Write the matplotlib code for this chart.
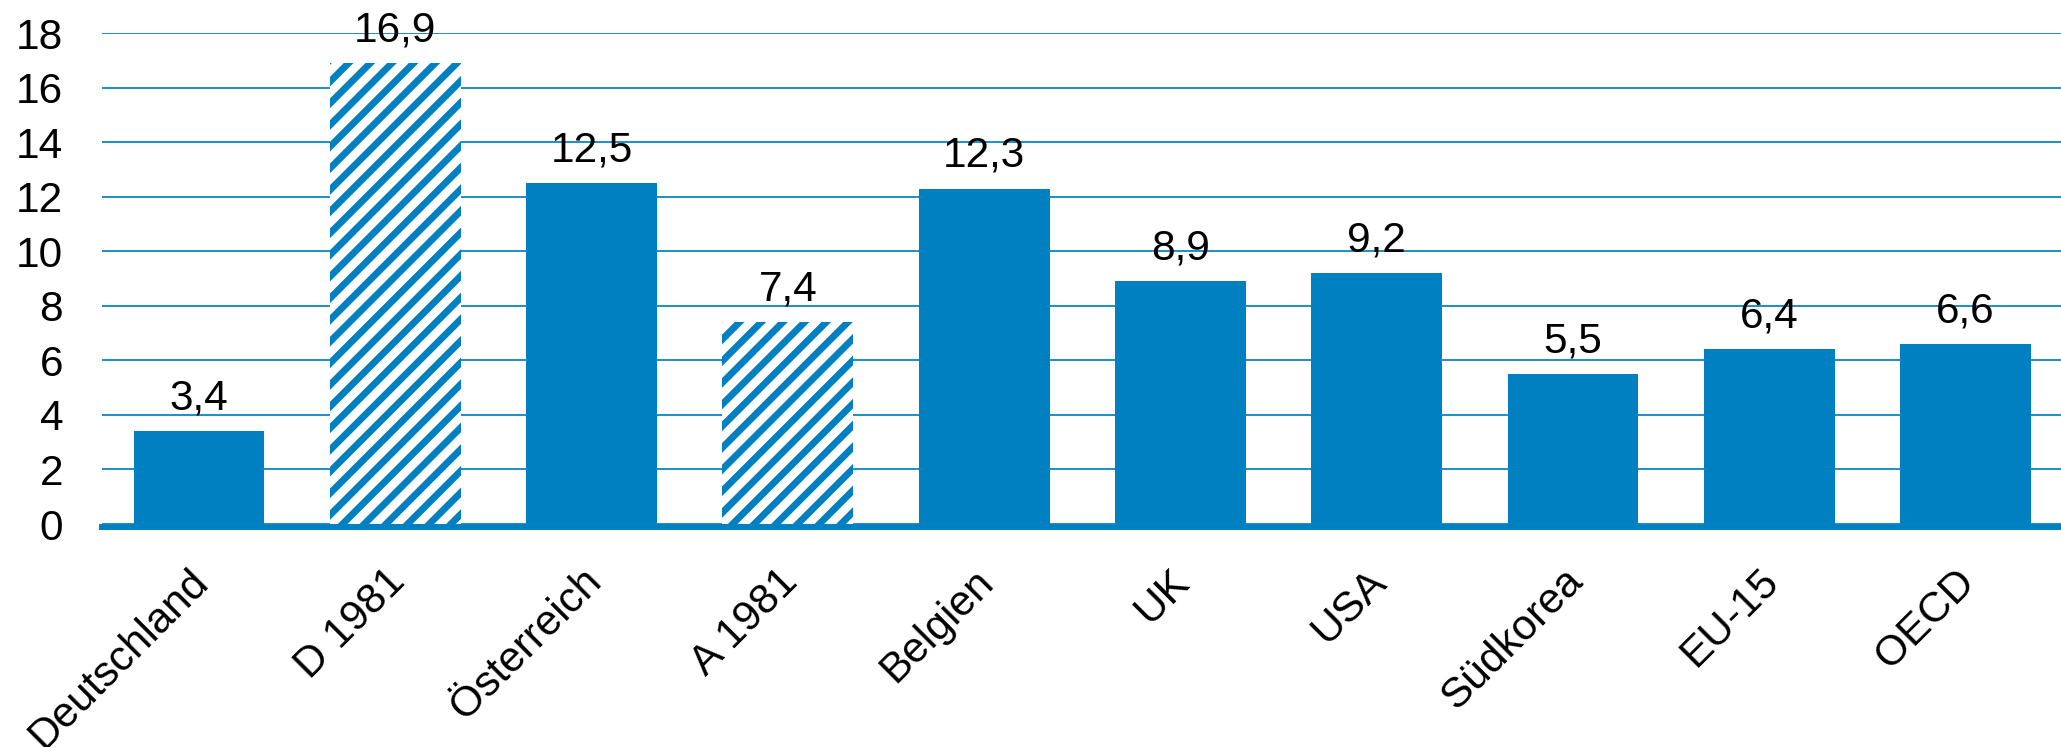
import matplotlib
matplotlib.use('Agg')
import matplotlib.pyplot as plt
import matplotlib.transforms as mtrans

# data
labels = ['Deutschland', 'D 1981', 'Österreich', 'A 1981', 'Belgien',
          'UK', 'USA', 'Südkorea', 'EU-15', 'OECD']
values = [3.4, 16.9, 12.5, 7.4, 12.3, 8.9, 9.2, 5.5, 6.4, 6.6]
hatched = [False, True, False, True, False, False, False, False, False, False]
yticks = [0, 2, 4, 6, 8, 10, 12, 14, 16, 18]

blue = '#0080C0'
dpi = 130
plt.rcParams['font.family'] = ['Liberation Sans', 'DejaVu Sans']
plt.rcParams['hatch.linewidth'] = 3.8

fig = plt.figure(figsize=(2061 / dpi, 747 / dpi), dpi=dpi)
ax = fig.add_axes([0.0495, 0.2985, 0.9505, 0.6573])

# spines first: set_position resets the ticks
for s in ['top', 'right', 'left']:
    ax.spines[s].set_visible(False)
ax.spines['bottom'].set_color(blue)
ax.spines['bottom'].set_linewidth(3.3)
ax.spines['bottom'].set_position(('outward', 1.65))
ax.spines['bottom'].set_zorder(1)

x = list(range(len(labels)))
for i in x:
    if hatched[i]:
        ax.bar(i, values[i], width=0.667, color='white', edgecolor=blue,
               hatch='//', linewidth=0, zorder=2)
    else:
        ax.bar(i, values[i], width=0.667, color=blue, linewidth=0, zorder=2)
    ax.annotate(f'{values[i]:.1f}'.replace('.', ','), (i, values[i]),
                xytext=(0, 12), textcoords='offset points',
                ha='center', va='baseline', fontsize=23.5, zorder=3,
                annotation_clip=False)

ax.set_xlim(-0.494, 9.486)
ax.set_ylim(0, 18)
ax.tick_params(axis='both', length=0, labelsize=23.5)
ax.tick_params(axis='y', pad=21.5)
ax.tick_params(axis='x', pad=19)
ax.set_yticks(yticks)
ax.set_yticklabels([str(t) for t in yticks])
ax.set_xticks(x)
ax.set_xticklabels(labels, rotation=45, ha='right', va='top',
                   rotation_mode='anchor')

# labels sit a little left of the bar centre
shift = mtrans.ScaledTranslation(-6 / 72, 0, fig.dpi_scale_trans)
for lab in ax.get_xticklabels():
    lab.set_transform(lab.get_transform() + shift)

ax.yaxis.grid(True, color=blue, linewidth=0.95, zorder=0)
ax.set_axisbelow(True)

fig.savefig('out.png', dpi=dpi)
